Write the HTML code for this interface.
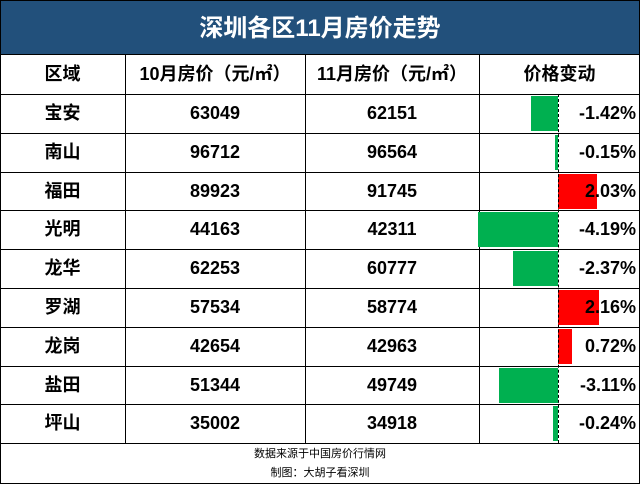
<!DOCTYPE html>
<html><head><meta charset="utf-8"><style>
body{margin:0;width:640px;height:484px;background:#fff;font-family:"Liberation Sans","Noto Sans CJK SC",sans-serif;position:relative;overflow:hidden}
.t{position:absolute;left:0;top:0;width:640px;height:55px;background:#22507b;color:#fff;font-weight:bold;font-size:24px;text-align:center;line-height:55px;border:1px solid #000;box-sizing:border-box}
.c{position:absolute;text-align:center;font-weight:bold;font-size:18px;color:#000;white-space:nowrap}
.h{position:absolute;background:#000}
.b{position:absolute}
.f{position:absolute;left:0;width:640px;text-align:center;font-size:11px;color:#000}
</style></head><body>
<div class="t">深圳各区11月房价走势</div>
<div class="h" style="left:0;top:55px;width:1px;height:429px"></div>
<div class="h" style="left:639px;top:55px;width:1px;height:429px"></div>
<div class="h" style="left:0;top:483px;width:640px;height:1px"></div>
<div id="g"></div>
<div class="f" style="top:445px">数据来源于中国房价行情网</div>
<div class="f" style="top:464px">制图：大胡子看深圳</div>
<script>
var rows=[["宝安","63049","62151",-1.42],["南山","96712","96564",-0.15],["福田","89923","91745",2.03],["光明","44163","42311",-4.19],["龙华","62253","60777",-2.37],["罗湖","57534","58774",2.16],["龙岗","42654","42963",0.72],["盐田","51344","49749",-3.11],["坪山","35002","34918",-0.24]];
var h='',cols=[0,125,305,479,640];
function cell(x,w,y,hh,t){return '<div class="c" style="left:'+x+'px;top:'+y+'px;width:'+w+'px;height:'+hh+'px;line-height:'+hh+'px">'+t+'</div>';}
var hy=55,hh=39;
var hd=["区域","10月房价（元/㎡）","11月房价（元/㎡）","价格变动"];
for(var i=0;i<4;i++)h+=cell(cols[i],cols[i+1]-cols[i],hy,hh,hd[i]);
var rh=38.8,y0=94;
for(var r=0;r<=9;r++){h+='<div class="h" style="left:0;top:'+Math.round(y0+r*rh)+'px;width:640px;height:1px"></div>';}
for(var i=1;i<4;i++)h+='<div class="h" style="left:'+cols[i]+'px;top:55px;width:1px;height:'+(y0+9*rh-55)+'px"></div>';
for(var r=0;r<9;r++){var y=Math.round(y0+r*rh),d=rows[r];
h+=cell(0,125,y,39,d[0])+cell(125,180,y,39,d[1])+cell(305,174,y,39,d[2]);
var v=d[3],w=Math.abs(v)*19,col=v<0?'#00b050':'#ff0000',x=v<0?558-w:558;
h+='<div class="b" style="left:'+x+'px;top:'+(y+2)+'px;width:'+w+'px;height:35px;background:'+col+'"></div>';
h+='<div class="c" style="left:556px;top:'+y+'px;width:80px;height:39px;line-height:39px;text-align:right">'+v.toFixed(2)+'%</div>';}
h+='<div class="b" style="left:558px;top:94px;width:0;height:'+(9*rh)+'px;border-left:1px dashed #000"></div>';
document.getElementById('g').innerHTML=h;
</script>
</body></html>
